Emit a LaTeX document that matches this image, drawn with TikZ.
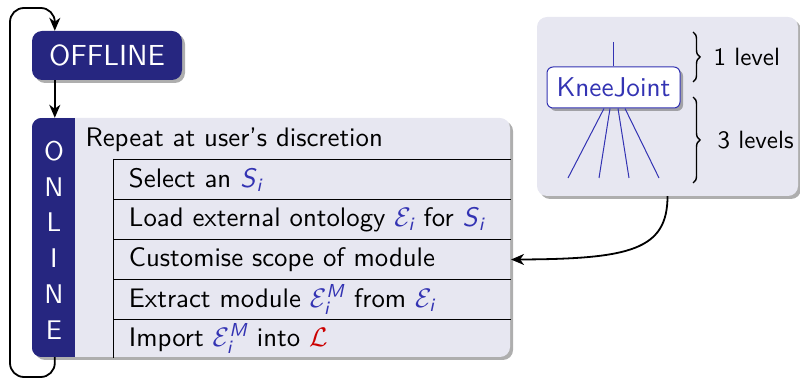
\documentclass[tikz,border=0pt]{standalone}
\usepackage{amsmath}
\usetikzlibrary{shadows,arrows.meta,decorations.pathreplacing}
\definecolor{dblue}{RGB}{38,38,128}
\definecolor{lightbg}{RGB}{231,231,241}
\definecolor{sblue}{RGB}{51,51,179}
\definecolor{lred}{RGB}{204,0,0}
\newcommand\mySi{\textcolor{sblue}{\textit{S}$_{\textit{i}}$}}
\newcommand\myEi{\textcolor{sblue}{$\mathcal{E}_{\textit{i}}$}}
\newcommand\myEiM{\textcolor{sblue}{$\mathcal{E}_{\textit{i}}^{\textit{M}}$}}
\newcommand\myL{\textcolor{lred}{$\mathcal{L}$}}
\tikzset{
  x=1pt,y=1pt,
  every node/.style={font=\sffamily\fontsize{10}{12}\selectfont, inner sep=0pt},
  big/.style={scale=2.68},
  small/.style={scale=2.5},
  shad/.style={drop shadow={shadow xshift=3pt, shadow yshift=-3pt, opacity=0.45, fill=black!70}},
  arr/.style={line width=1.8pt, -{Stealth[length=13pt,width=11pt,inset=4pt]}},
  rowbox/.style={big, minimum width=148.13pt, minimum height=14.93pt, anchor=north west, text width=144pt, align=left},
  rowline/.style={line width=0.8pt},
  tline/.style={draw=sblue, line width=1pt},
  brc/.style={line width=1.4pt, decorate, decoration={brace, amplitude=7pt}}
}
\begin{document}
\begin{tikzpicture}
\useasboundingbox (0,0) rectangle (800,380);
% offline
\node[shad, fill=dblue, rounded corners=10pt, minimum width=150pt, minimum height=49pt] (offline) at (107,324.5) {};
\node[scale=2.9, text=white] (offtxt) at (offline) {OFFLINE};
% online box
\node[shad, fill=lightbg, rounded corners=10pt, minimum width=478pt, minimum height=239pt] (online) at (271,142.5) {};
\begin{scope}
  \clip[rounded corners=10pt] (online.south west) rectangle (online.north east);
  \fill[dblue] (online.south west) rectangle ([xshift=43pt]online.north west);
\end{scope}
\foreach \l/\yy [count=\k] in {O/229,N/193,L/158,I/122,N/86,E/50}
  \node[scale=2.7, text=white] (let\k) at (54,\yy) {\l};
\node[big, anchor=west] (rep) at (85,240) {Repeat at user's discretion};
% rows
\node[rowbox] (r1) at (113,221) {\hspace*{3.7pt}Select an \mySi};
\node[rowbox] (r2) at (113,181) {\hspace*{3.7pt}Load external ontology \myEi{} for \mySi};
\node[rowbox] (r3) at (113,141) {\hspace*{3.7pt}Customise scope of module};
\node[rowbox] (r4) at (113,101) {\hspace*{3.7pt}Extract module \myEiM{} from \myEi};
\node[rowbox, minimum height=14.18pt] (r5) at (113,61) {\hspace*{3.7pt}Import \myEiM{} into \myL};
\foreach \r in {r1,r2,r3,r4,r5}
  \draw[rowline] (\r.north west) -- (\r.north east);
\draw[rowline] (r1.north west) -- (r5.south west);
% arrows on left
\draw[arr] ([xshift=23pt]offline.south west) -- ([xshift=23pt]online.north west);
\coordinate (lb) at (10,3);
\coordinate (lt) at (10,372);
\draw[arr, rounded corners=14pt] ([xshift=23pt]online.south west) |- (lb) -- (lt) -| ([xshift=23pt]offline.north west);
% right box
\node[shad, fill=lightbg, rounded corners=10pt, minimum width=261pt, minimum height=179pt] (kb) at (667.5,273.5) {};
\node[shad, fill=white, draw=sblue, line width=1pt, rounded corners=6pt, minimum width=133pt, minimum height=41pt] (knee) at (613.5,292.5) {};
\node[scale=2.72, text=sblue] (kneetxt) at (knee) {KneeJoint};
\coordinate (kt) at (613,338);
\draw[tline] (kt) -- (knee.north -| kt);
\coordinate (b1) at (568,202);
\coordinate (b2) at (599,202);
\coordinate (b3) at (629,202);
\coordinate (b4) at (659,202);
\draw[tline] ([xshift=-9.5pt]knee.south) -- (b1);
\draw[tline] ([xshift=-3.5pt]knee.south) -- (b2);
\draw[tline] ([xshift=4.5pt]knee.south) -- (b3);
\draw[tline] ([xshift=11.5pt]knee.south) -- (b4);
\coordinate (br1a) at (693,348);
\coordinate (br1b) at (693,298);
\coordinate (br2a) at (693,283);
\coordinate (br2b) at (693,197);
\draw[brc] (br1a) -- (br1b);
\draw[brc] (br2a) -- (br2b);
\node[small, anchor=west] (l1) at (713,323) {1 level};
\node[small, anchor=west] (l3) at (717,240) {3 levels};
% connector
\coordinate (c1) at (667.5,130);
\coordinate (c2) at (630,121);
\draw[arr] (kb.south) .. controls (c1) and (c2) .. (r3.east);
\end{tikzpicture}
\end{document}
